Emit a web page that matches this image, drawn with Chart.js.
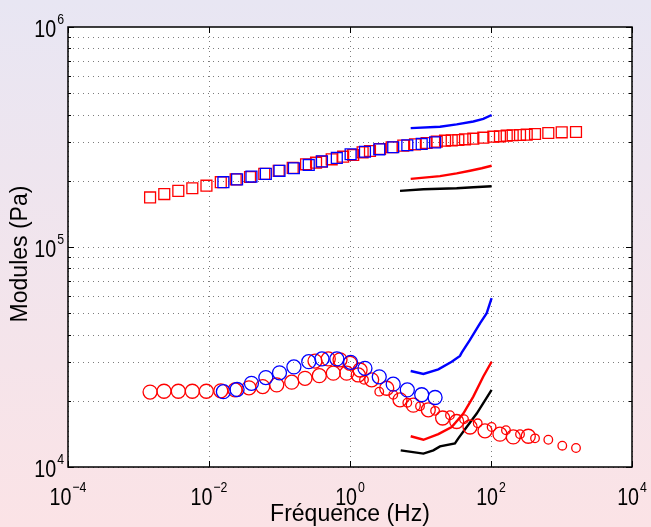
<!DOCTYPE html>
<html>
<head>
<meta charset="utf-8">
<script src="https://cdn.jsdelivr.net/npm/chart.js@4/dist/chart.umd.min.js"></script>
<style>
  html, body { margin: 0; padding: 0; background: #fff; }
  canvas { display: block; }
</style>
</head>
<body>
<canvas id="c" width="651" height="527"></canvas>
<script>
// Modules G' (carrés) et G'' (cercles, lignes) en fonction de la fréquence

// G' rouge (carrés)
const freqRedSq = [0.00146, 0.00232, 0.00367, 0.0058, 0.0092, 0.0147, 0.0239, 0.0382, 0.0608, 0.0975,
  0.154, 0.238, 0.33, 0.397, 0.55, 0.80, 1.11, 1.51, 1.92, 2.67, 3.90, 5.70, 8.36, 12.2, 17.0,
  22.3, 27.7, 34.4, 42.8, 56.1, 77.8, 108, 134, 167, 203, 258, 321, 421, 650, 1007, 1606];
const gRedSq = [168000, 174000, 180000, 185000, 190000, 197000, 203000, 208000, 215000, 222000,
  229000, 237600, 241700, 244200, 250400, 257300, 261900, 269400, 273100, 278900, 284000, 288800, 293000, 297000, 301000,
  304200, 305500, 306500, 308700, 310700, 313900, 317200, 318600, 320600, 322000, 323000, 324000, 326300, 329700, 332200, 333200];

// bleu (carrés G', cercles G'')
const freqBlue = [0.016, 0.025, 0.040, 0.064, 0.10, 0.16, 0.26, 0.40, 0.65, 1.02, 1.63, 2.6, 4.1, 6.5, 10.4, 16.1];
const gBlueSq = [197000, 203000, 209000, 215000, 222000, 228000, 236000, 245000, 254000, 264000, 271000, 278000, 284000, 290000, 294000, 299000];
const gBlueCi = [22000, 22500, 24000, 25500, 26800, 28500, 30100, 31000, 31000, 29900, 28100, 25700, 23800, 22400, 21300, 20700];

// G'' rouge, grands cercles
const freqRedCiA = [0.00146, 0.0023, 0.00367, 0.0058, 0.00916, 0.0147, 0.0234, 0.0369, 0.0578, 0.0913,
  0.149, 0.23, 0.367, 0.58, 0.897, 1.31, 2.03, 3.32, 5.12, 7.91, 12.9, 20.6, 32.6, 50.4, 82.2, 134, 207, 338];
const gRedCiA = [21900, 22100, 22100, 22100, 22100, 22200, 22400, 22900, 23200, 23600,
  24300, 25300, 26000, 26700, 26700, 26200, 24900, 22800, 20200, 19100, 18200, 16700, 16100, 15200, 14600, 14100, 13700, 13800];
// G'' rouge, rangée haute
const freqRedCiB = [0.319, 0.492, 0.722, 1.0, 1.39];
const gRedCiB = [30300, 31000, 30700, 29600, 27600];
// G'' rouge, petits cercles
const freqRedCiC = [1.58, 2.60, 4.11, 6.50, 9.84, 16.1, 26.2, 41.4, 64.8, 102, 163, 258, 421, 650, 1026, 1606];
const gRedCiC = [24900, 22000, 21300, 19600, 18900, 18000, 17200, 16500, 15800, 15200, 14700, 14100, 13500, 13300, 12500, 12200];

// lignes hautes fréquences (G')
const freqBlueHi = [7.26, 18.9, 32.6, 56.1, 77.8, 102];
const gBlueHi = [347000, 352000, 361000, 372000, 382000, 398000];
const freqRedHi = [7.26, 18.9, 32.6, 50.4, 73.8, 102];
const gRedHi = [204000, 210000, 216000, 222000, 228000, 234000];
const freqBlackHi = [5.12, 11.0, 32.6, 56.1, 102];
const gBlackHi = [180000, 183000, 185000, 187000, 189000];

// lignes hautes fréquences (G'')
const freqBlueLo = [7.26, 11.0, 17.9, 27.7, 36.3, 38.4, 50.3, 69.8, 86.9, 102];
const gBlueLo = [27300, 26500, 27800, 30100, 32000, 33100, 37800, 45000, 50000, 58500];
const freqRedLo = [7.26, 11.0, 17.9, 27.7, 40.5, 56.1, 77.8, 102];
const gRedLo = [13800, 13300, 14100, 15200, 17500, 20900, 25800, 30100];
const freqBlackLo = [5.24, 11.0, 15.2, 18.9, 30.8, 34.4, 45.2, 62.7, 102];
const gBlackLo = [11900, 11500, 11900, 12400, 12800, 13500, 15200, 17500, 22400];

// graduations
const xTicks = [1e-4, 1e-2, 1, 1e2, 1e4];
const xTickExp = ['\u22124', '\u22122', '0', '2', '4'];
const yTicks = [1e4, 1e5, 1e6];
const yTickExp = ['4', '5', '6'];

const xTitle = 'Fréquence (Hz)';
const yTitle = 'Modules (Pa)';

const pts = (xs, ys) => xs.map((x, i) => ({ x: x, y: ys[i] }));
const FONT = '"Liberation Sans", Arial, Helvetica, sans-serif';

function marks(label, xs, ys, color, style, r) {
  return {
    label: label, data: pts(xs, ys), showLine: false,
    pointStyle: style, pointRadius: r, pointHoverRadius: r,
    pointBorderColor: color, pointBackgroundColor: 'rgba(0,0,0,0)', pointBorderWidth: 1.3
  };
}
function curve(label, xs, ys, color) {
  return {
    label: label, data: pts(xs, ys), showLine: true, borderColor: color, borderWidth: 2.4,
    pointRadius: 0, fill: false, tension: 0
  };
}

function powLabel(ctx, exp, x, y, align) {
  const sx = 0.82;
  ctx.font = '24px ' + FONT;
  const w10 = ctx.measureText('10').width * sx;
  ctx.font = '15px ' + FONT;
  const wE = ctx.measureText(exp).width * sx;
  let x0 = align === 'center' ? x - (w10 + wE + 1) / 2 : x - (w10 + wE + 1);
  ctx.save(); ctx.translate(x0, y); ctx.scale(sx, 1);
  ctx.font = '24px ' + FONT; ctx.fillText('10', 0, 0); ctx.restore();
  ctx.save(); ctx.translate(x0 + w10 + 1, y - 13); ctx.scale(sx, 1);
  ctx.font = '15px ' + FONT; ctx.fillText(exp, 0, 0); ctx.restore();
}

const frame = {
  id: 'frame',
  beforeDraw(chart) {
    const { ctx, width, height, chartArea: a } = chart;
    const xs = chart.scales.x, ys = chart.scales.y;
    ctx.save();
    const g = ctx.createLinearGradient(0, 0, 0, height);
    g.addColorStop(0, '#e8e6f3');
    g.addColorStop(1, '#fbe3e6');
    ctx.fillStyle = g;
    ctx.fillRect(0, 0, width, height);
    ctx.fillStyle = '#ffffff';
    ctx.fillRect(a.left, a.top, a.right - a.left, a.bottom - a.top);
    // grille pointillée
    ctx.strokeStyle = 'rgba(70,70,70,0.7)';
    ctx.lineWidth = 1;
    ctx.setLineDash([1, 4]);
    xTicks.forEach(v => {
      const px = Math.round(xs.getPixelForValue(v)) + 0.5;
      ctx.beginPath(); ctx.moveTo(px, a.bottom); ctx.lineTo(px, a.top); ctx.stroke();
    });
    for (let d = 1e4; d < 1e6; d *= 10) {
      for (let m = 1; m < 10; m++) {
        const py = Math.round(ys.getPixelForValue(d * m)) + 0.5;
        ctx.beginPath(); ctx.moveTo(a.left, py); ctx.lineTo(a.right, py); ctx.stroke();
      }
    }
    ctx.restore();
  },
  afterDraw(chart) {
    const { ctx, chartArea: a } = chart;
    const xs = chart.scales.x, ys = chart.scales.y;
    ctx.save();
    ctx.strokeStyle = '#000';
    ctx.lineWidth = 1.5;
    ctx.strokeRect(a.left, a.top, a.right - a.left, a.bottom - a.top);
    ctx.lineWidth = 1;
    ctx.beginPath();
    xTicks.forEach(v => {
      const px = Math.round(xs.getPixelForValue(v)) + 0.5;
      ctx.moveTo(px, a.bottom); ctx.lineTo(px, a.bottom - 6);
      ctx.moveTo(px, a.top); ctx.lineTo(px, a.top + 6);
    });
    for (let d = 1e4; d <= 1e6; d *= 10) {
      for (let m = 1; m < 10; m++) {
        if (d * m > 1e6) break;
        const py = Math.round(ys.getPixelForValue(d * m)) + 0.5;
        const len = m === 1 ? 6 : 3;
        ctx.moveTo(a.left, py); ctx.lineTo(a.left + len, py);
        ctx.moveTo(a.right, py); ctx.lineTo(a.right - len, py);
      }
    }
    ctx.stroke();

    ctx.fillStyle = '#000';
    ctx.textBaseline = 'alphabetic';
    ctx.textAlign = 'left';
    xTicks.forEach((v, i) => powLabel(ctx, xTickExp[i], xs.getPixelForValue(v), a.bottom + 38, 'center'));
    yTicks.forEach((v, i) => powLabel(ctx, yTickExp[i], a.left - 4, ys.getPixelForValue(v) + 10, 'right'));

    ctx.font = '23px ' + FONT;
    ctx.textAlign = 'center';
    ctx.fillText(xTitle, (a.left + a.right) / 2, 521);
    ctx.save();
    ctx.translate(27, (a.top + a.bottom) / 2 + 7);
    ctx.rotate(-Math.PI / 2);
    ctx.fillText(yTitle, 0, 0);
    ctx.restore();
    ctx.restore();
  }
};

new Chart(document.getElementById('c'), {
  type: 'scatter',
  data: {
    datasets: [
      marks("G' bleu", freqBlue, gBlueSq, '#0000ff', 'rect', 7.7),
      marks("G' rouge", freqRedSq, gRedSq, '#ff0000', 'rect', 7.7),
      marks("G'' bleu", freqBlue, gBlueCi, '#0000ff', 'circle', 7),
      marks("G'' rouge", freqRedCiA, gRedCiA, '#ff0000', 'circle', 7),
      marks("G'' rouge 2", freqRedCiB, gRedCiB, '#ff0000', 'circle', 7),
      marks("G'' rouge 3", freqRedCiC, gRedCiC, '#ff0000', 'circle', 4.3),
      curve("G' bleu HF", freqBlueHi, gBlueHi, '#0000ff'),
      curve("G' rouge HF", freqRedHi, gRedHi, '#ff0000'),
      curve("G' noir HF", freqBlackHi, gBlackHi, '#000000'),
      curve("G'' bleu HF", freqBlueLo, gBlueLo, '#0000ff'),
      curve("G'' rouge HF", freqRedLo, gRedLo, '#ff0000'),
      curve("G'' noir HF", freqBlackLo, gBlackLo, '#000000')
    ]
  },
  options: {
    responsive: false,
    animation: false,
    devicePixelRatio: 1,
    layout: { padding: { left: 68, right: 19, top: 27, bottom: 60 } },
    plugins: { legend: { display: false }, tooltip: { enabled: false } },
    scales: {
      x: { type: 'logarithmic', min: 1e-4, max: 1e4, display: false },
      y: { type: 'logarithmic', min: 1e4, max: 1e6, display: false }
    }
  },
  plugins: [frame]
});
</script>
</body>
</html>
